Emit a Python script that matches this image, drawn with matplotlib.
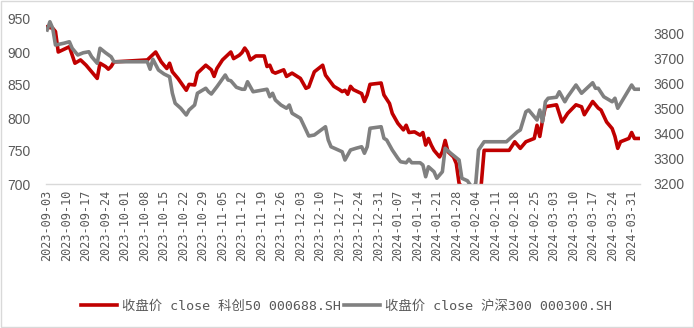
import numpy as np
import pandas as pd
import matplotlib
matplotlib.use("Agg")
import matplotlib.pyplot as plt
import matplotlib.dates as mdates
from matplotlib.patches import Rectangle

# 科创50 close (left axis)
kc50_dates = [
    "2023-09-03", "2023-09-05", "2023-09-06", "2023-09-07", "2023-09-08", "2023-09-11",
    "2023-09-13", "2023-09-15", "2023-09-17", "2023-09-19", "2023-09-21", "2023-09-22",
    "2023-09-24", "2023-09-25", "2023-09-26", "2023-09-27", "2023-10-09", "2023-10-12",
    "2023-10-14", "2023-10-16", "2023-10-17", "2023-10-18", "2023-10-20", "2023-10-23",
    "2023-10-24", "2023-10-26", "2023-10-27", "2023-10-30", "2023-11-01", "2023-11-02",
    "2023-11-03", "2023-11-05", "2023-11-06", "2023-11-08", "2023-11-09", "2023-11-11",
    "2023-11-12", "2023-11-13", "2023-11-14", "2023-11-15", "2023-11-17", "2023-11-20",
    "2023-11-21", "2023-11-22", "2023-11-23", "2023-11-24", "2023-11-27", "2023-11-28",
    "2023-11-30", "2023-12-03", "2023-12-05", "2023-12-06", "2023-12-08", "2023-12-11",
    "2023-12-12", "2023-12-15", "2023-12-17", "2023-12-18", "2023-12-19", "2023-12-20",
    "2023-12-21", "2023-12-22", "2023-12-25", "2023-12-26", "2023-12-27", "2023-12-28",
    "2024-01-01", "2024-01-02", "2024-01-04", "2024-01-05", "2024-01-07", "2024-01-09",
    "2024-01-10", "2024-01-11", "2024-01-13", "2024-01-15", "2024-01-16", "2024-01-17",
    "2024-01-18", "2024-01-19", "2024-01-20", "2024-01-22", "2024-01-23", "2024-01-24",
    "2024-01-25", "2024-01-27", "2024-01-28", "2024-01-29", "2024-02-01", "2024-02-03",
    "2024-02-05", "2024-02-06", "2024-02-07", "2024-02-16", "2024-02-18", "2024-02-20",
    "2024-02-22", "2024-02-25", "2024-02-26", "2024-02-27", "2024-02-28", "2024-02-29",
    "2024-03-04", "2024-03-06", "2024-03-08", "2024-03-11", "2024-03-13", "2024-03-14",
    "2024-03-17", "2024-03-19", "2024-03-20", "2024-03-22", "2024-03-24", "2024-03-25",
    "2024-03-26", "2024-03-27", "2024-03-30", "2024-03-31", "2024-04-01", "2024-04-03",
]
kc50_close = [
    938, 936, 931, 900, 902, 908,
    883, 888, 880, 870, 860, 883,
    878, 874, 878, 885, 888, 900,
    885, 875, 883, 870, 860, 842,
    851, 850, 868, 880, 873, 863,
    875, 888, 892, 900, 890, 895,
    899, 906, 900, 888, 894, 894,
    878, 880, 870, 868, 873, 863,
    868, 860, 845, 847, 870, 880,
    865, 848, 843, 840, 842, 836,
    848, 843, 837, 825, 835, 851,
    853, 835, 822, 807, 792, 782,
    789, 778, 779, 774, 778, 759,
    769, 759, 751, 741, 749, 766,
    749, 741, 731, 701, 685, 670,
    660, 701, 751, 751, 764, 754,
    764, 769, 789, 772, 797, 817,
    820, 794, 807, 820, 817, 805,
    825, 815, 812, 794, 784, 772,
    754, 764, 769, 778, 769, 769,
]

# 沪深300 close (right axis)
hs300_dates = [
    "2023-09-03", "2023-09-04", "2023-09-05", "2023-09-06", "2023-09-09", "2023-09-11",
    "2023-09-12", "2023-09-14", "2023-09-16", "2023-09-18", "2023-09-19", "2023-09-21",
    "2023-09-22", "2023-09-24", "2023-09-26", "2023-09-27", "2023-10-09", "2023-10-10",
    "2023-10-11", "2023-10-13", "2023-10-15", "2023-10-17", "2023-10-18", "2023-10-19",
    "2023-10-21", "2023-10-23", "2023-10-24", "2023-10-26", "2023-10-27", "2023-10-30",
    "2023-10-31", "2023-11-01", "2023-11-03", "2023-11-06", "2023-11-07", "2023-11-08",
    "2023-11-10", "2023-11-12", "2023-11-13", "2023-11-14", "2023-11-16", "2023-11-18",
    "2023-11-21", "2023-11-22", "2023-11-23", "2023-11-24", "2023-11-26", "2023-11-28",
    "2023-11-29", "2023-11-30", "2023-12-03", "2023-12-05", "2023-12-06", "2023-12-08",
    "2023-12-12", "2023-12-13", "2023-12-14", "2023-12-16", "2023-12-18", "2023-12-19",
    "2023-12-21", "2023-12-23", "2023-12-25", "2023-12-26", "2023-12-27", "2023-12-28",
    "2024-01-01", "2024-01-02", "2024-01-03", "2024-01-05", "2024-01-07", "2024-01-08",
    "2024-01-10", "2024-01-11", "2024-01-12", "2024-01-15", "2024-01-16", "2024-01-17",
    "2024-01-18", "2024-01-20", "2024-01-21", "2024-01-23", "2024-01-24", "2024-01-26",
    "2024-01-29", "2024-01-30", "2024-02-01", "2024-02-03", "2024-02-04", "2024-02-05",
    "2024-02-07", "2024-02-15", "2024-02-19", "2024-02-20", "2024-02-22", "2024-02-23",
    "2024-02-26", "2024-02-27", "2024-02-28", "2024-02-29", "2024-03-01", "2024-03-04",
    "2024-03-05", "2024-03-07", "2024-03-08", "2024-03-11", "2024-03-13", "2024-03-17",
    "2024-03-18", "2024-03-19", "2024-03-21", "2024-03-24", "2024-03-25", "2024-03-26",
    "2024-03-31", "2024-04-01", "2024-04-03",
]
hs300_close = [
    3816, 3849, 3823, 3756, 3763, 3769,
    3743, 3716, 3725, 3729, 3709, 3683,
    3743, 3725, 3709, 3689, 3689, 3659,
    3699, 3656, 3640, 3629, 3563, 3523,
    3503, 3476, 3496, 3516, 3563, 3583,
    3569, 3560, 3589, 3636, 3616, 3613,
    3587, 3579, 3579, 3609, 3569, 3573,
    3579, 3549, 3563, 3536, 3516, 3503,
    3516, 3483, 3463, 3416, 3392, 3396,
    3429, 3376, 3349, 3339, 3329, 3296,
    3336, 3343, 3349, 3323, 3349, 3423,
    3429, 3383, 3376, 3336, 3303, 3289,
    3285, 3299, 3285, 3285, 3276, 3229,
    3269, 3249, 3223, 3249, 3343, 3323,
    3296, 3223, 3213, 3180, 3204, 3336,
    3369, 3369, 3409, 3416, 3489, 3496,
    3456, 3496, 3449, 3529, 3543, 3547,
    3569, 3529, 3549, 3596, 3563, 3605,
    3583, 3583, 3549, 3529, 3543, 3503,
    3596, 3579, 3579,
]

label_kc50 = "收盘价 close 科创50 000688.SH"
label_hs300 = "收盘价 close 沪深300 000300.SH"

text_gray = "#595959"
mono_cjk = ["DejaVu Sans Mono", "Noto Sans CJK SC"]

fig = plt.figure(figsize=(6.94, 3.28), dpi=100)
ax = fig.add_axes([46 / 694, 1 - 184 / 328, 594 / 694, 165 / 328])
ax2 = ax.twinx()

x1 = pd.to_datetime(kc50_dates)
x2 = pd.to_datetime(hs300_dates)
l1, = ax.plot(x1, kc50_close, color="#C00000", lw=2.6,
              solid_joinstyle="round", label=label_kc50)
l2, = ax2.plot(x2, hs300_close, color="#808080", lw=2.6,
               solid_joinstyle="round", label=label_hs300)

ax.set_ylim(700, 950)
ax.set_yticks(np.arange(700, 951, 50))
ax2.set_ylim(3200, 3860)
ax2.set_yticks(np.arange(3200, 3801, 100))

x_start = mdates.date2num(pd.Timestamp("2023-09-03")) - 0.4
x_end = mdates.date2num(pd.Timestamp("2024-04-03"))
ax.set_xlim(x_start, x_end)

week_ticks = pd.date_range("2023-09-03", "2024-03-31", freq="7D")
ax.set_xticks(week_ticks)
ax.set_xticklabels([d.strftime("%Y-%m-%d") for d in week_ticks],
                   rotation=90, family=mono_cjk, fontsize=8.6, color=text_gray)

for a in (ax, ax2):
    for s in a.spines.values():
        s.set_visible(False)
    a.tick_params(length=0)
ax.spines["bottom"].set_visible(True)
ax.spines["bottom"].set_color("#D9D9D9")
ax.spines["bottom"].set_linewidth(1.0)

ax.tick_params(axis="x", pad=4)
ax.tick_params(axis="y", pad=11, labelsize=10, labelcolor=text_gray)
ax2.tick_params(axis="y", pad=10, labelsize=10, labelcolor=text_gray)
for lab in ax.get_yticklabels() + ax2.get_yticklabels():
    lab.set_family("Liberation Sans")

leg = fig.legend([l1, l2], [label_kc50, label_hs300], loc="center",
                 bbox_to_anchor=(0.499, 0.067), ncol=2, frameon=False,
                 handlelength=2.75, handletextpad=0.35, columnspacing=0.2,
                 prop={"family": mono_cjk, "size": 9.6})
for t in leg.get_texts():
    t.set_color(text_gray)

fig.patches.append(Rectangle((0.002, 0.003), 0.996, 0.994, transform=fig.transFigure,
                             fill=False, edgecolor="#D9D9D9", lw=1.0))

fig.savefig("out.png", dpi=100)
